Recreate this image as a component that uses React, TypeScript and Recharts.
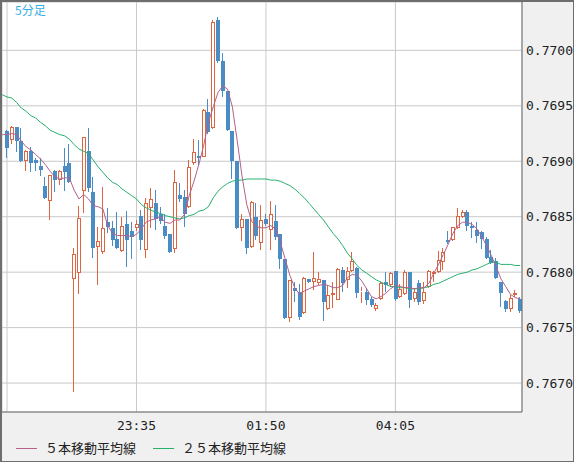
import React from 'react';
import { ComposedChart, Bar, Line, XAxis, YAxis, CartesianGrid, Legend } from 'recharts';

// index 0 is the bar just left of the visible window (only its averages are visible)
const openP = [null,
  0.76927, 0.76919, 0.76931, 0.76918, 0.76900, 0.76909, 0.76901, 0.76896, 0.76878, 0.76864,
  0.76891, 0.76883, 0.76896, 0.76898, 0.76794, 0.76799, 0.76873, 0.76909, 0.76872, 0.76823,
  0.76818, 0.76845, 0.76840, 0.76830, 0.76819, 0.76843, 0.76837, 0.76840, 0.76851, 0.76820,
  0.76858, 0.76862, 0.76852, 0.76842, 0.76834, 0.76821, 0.76870, 0.76868, 0.76859, 0.76898,
  0.76905, 0.76904, 0.76944, 0.76930, 0.77027, 0.76990, 0.76963, 0.76927, 0.76900, 0.76840,
  0.76848, 0.76823, 0.76850, 0.76826, 0.76848, 0.76838, 0.76846, 0.76834, 0.76812, 0.76759,
  0.76786, 0.76782, 0.76763, 0.76794, 0.76791, 0.76790, 0.76793, 0.76767, 0.76779, 0.76775,
  0.76802, 0.76793, 0.76801, 0.76804, 0.76782, 0.76782, 0.76776, 0.76767, 0.76776, 0.76791,
  0.76788, 0.76801, 0.76778, 0.76780, 0.76800, 0.76776, 0.76790, 0.76774, 0.76787, 0.76798,
  0.76800, 0.76809, 0.76829, 0.76829, 0.76840, 0.76850, 0.76854, 0.76842, 0.76838, 0.76836,
  0.76830, 0.76814, 0.76810, 0.76791, 0.76774, 0.76767, 0.76779, 0.76776];

const highP = [null,
  0.76928, 0.76932, 0.76931, 0.76930, 0.76910, 0.76913, 0.76903, 0.76903, 0.76886, 0.76888,
  0.76892, 0.76892, 0.76912, 0.76916, 0.76822, 0.76860, 0.76922, 0.76930, 0.76886, 0.76841,
  0.76877, 0.76858, 0.76846, 0.76854, 0.76850, 0.76855, 0.76845, 0.76847, 0.76856, 0.76867,
  0.76876, 0.76874, 0.76859, 0.76852, 0.76834, 0.76892, 0.76880, 0.76874, 0.76901, 0.76920,
  0.76919, 0.76947, 0.76956, 0.77027, 0.77030, 0.76998, 0.76963, 0.76927, 0.76900, 0.76852,
  0.76848, 0.76864, 0.76862, 0.76861, 0.76852, 0.76864, 0.76861, 0.76834, 0.76812, 0.76793,
  0.76791, 0.76789, 0.76796, 0.76794, 0.76818, 0.76800, 0.76793, 0.76788, 0.76791, 0.76804,
  0.76805, 0.76805, 0.76818, 0.76805, 0.76787, 0.76786, 0.76778, 0.76772, 0.76791, 0.76800,
  0.76800, 0.76801, 0.76789, 0.76802, 0.76800, 0.76786, 0.76793, 0.76791, 0.76802, 0.76801,
  0.76819, 0.76822, 0.76837, 0.76841, 0.76858, 0.76856, 0.76856, 0.76845, 0.76845, 0.76837,
  0.76832, 0.76820, 0.76813, 0.76791, 0.76775, 0.76779, 0.76784, 0.76778];

const lowP = [null,
  0.76903, 0.76916, 0.76908, 0.76899, 0.76891, 0.76890, 0.76891, 0.76887, 0.76866, 0.76847,
  0.76872, 0.76879, 0.76873, 0.76880, 0.76692, 0.76780, 0.76853, 0.76872, 0.76813, 0.76788,
  0.76816, 0.76835, 0.76824, 0.76821, 0.76818, 0.76805, 0.76812, 0.76837, 0.76820, 0.76813,
  0.76840, 0.76838, 0.76843, 0.76830, 0.76817, 0.76817, 0.76863, 0.76841, 0.76858, 0.76897,
  0.76897, 0.76904, 0.76925, 0.76929, 0.76989, 0.76958, 0.76927, 0.76884, 0.76839, 0.76828,
  0.76816, 0.76822, 0.76829, 0.76820, 0.76842, 0.76820, 0.76829, 0.76803, 0.76758, 0.76755,
  0.76773, 0.76757, 0.76762, 0.76790, 0.76784, 0.76788, 0.76756, 0.76766, 0.76768, 0.76775,
  0.76782, 0.76786, 0.76800, 0.76777, 0.76772, 0.76770, 0.76769, 0.76765, 0.76775, 0.76782,
  0.76787, 0.76774, 0.76777, 0.76779, 0.76768, 0.76773, 0.76770, 0.76771, 0.76786, 0.76791,
  0.76799, 0.76802, 0.76825, 0.76828, 0.76839, 0.76849, 0.76837, 0.76831, 0.76826, 0.76821,
  0.76812, 0.76807, 0.76794, 0.76769, 0.76764, 0.76764, 0.76778, 0.76763];

const closeP = [null,
  0.76912, 0.76931, 0.76918, 0.76900, 0.76909, 0.76898, 0.76898, 0.76892, 0.76867, 0.76888,
  0.76883, 0.76891, 0.76890, 0.76881, 0.76816, 0.76849, 0.76922, 0.76876, 0.76822, 0.76828,
  0.76840, 0.76841, 0.76829, 0.76822, 0.76842, 0.76829, 0.76832, 0.76843, 0.76829, 0.76862,
  0.76866, 0.76848, 0.76846, 0.76833, 0.76818, 0.76881, 0.76866, 0.76852, 0.76895, 0.76908,
  0.76903, 0.76946, 0.76926, 0.77026, 0.76990, 0.76963, 0.76928, 0.76900, 0.76840, 0.76848,
  0.76822, 0.76863, 0.76833, 0.76847, 0.76843, 0.76852, 0.76832, 0.76812, 0.76759, 0.76793,
  0.76783, 0.76760, 0.76795, 0.76791, 0.76795, 0.76794, 0.76773, 0.76779, 0.76781, 0.76803,
  0.76790, 0.76801, 0.76810, 0.76781, 0.76783, 0.76775, 0.76770, 0.76770, 0.76790, 0.76788,
  0.76799, 0.76776, 0.76785, 0.76800, 0.76775, 0.76782, 0.76773, 0.76782, 0.76801, 0.76800,
  0.76811, 0.76818, 0.76827, 0.76841, 0.76851, 0.76854, 0.76842, 0.76840, 0.76833, 0.76830,
  0.76813, 0.76808, 0.76795, 0.76781, 0.76767, 0.76777, 0.76781, 0.76765];

const ma5 = [0.76924,
  0.76924, 0.76925, 0.76924, 0.76918, 0.76913, 0.76910, 0.76906, 0.76902, 0.76897, 0.76891,
  0.76886, 0.76884, 0.76885, 0.76885, 0.76874, 0.76866, 0.76870, 0.76866, 0.76860, 0.76859,
  0.76857, 0.76842, 0.76835, 0.76833, 0.76833, 0.76833, 0.76832, 0.76834, 0.76839, 0.76845,
  0.76847, 0.76848, 0.76850, 0.76845, 0.76844, 0.76847, 0.76847, 0.76852, 0.76869, 0.76882,
  0.76897, 0.76914, 0.76935, 0.76949, 0.76962, 0.76968, 0.76965, 0.76949, 0.76919, 0.76887,
  0.76861, 0.76846, 0.76841, 0.76840, 0.76840, 0.76842, 0.76839, 0.76827, 0.76812, 0.76797,
  0.76786, 0.76780, 0.76783, 0.76785, 0.76787, 0.76788, 0.76789, 0.76788, 0.76786, 0.76786,
  0.76788, 0.76795, 0.76798, 0.76797, 0.76792, 0.76785, 0.76778, 0.76776, 0.76778, 0.76781,
  0.76785, 0.76788, 0.76787, 0.76786, 0.76786, 0.76785, 0.76786, 0.76786, 0.76790, 0.76799,
  0.76807, 0.76816, 0.76825, 0.76835, 0.76842, 0.76845, 0.76845, 0.76843, 0.76839, 0.76832,
  0.76824, 0.76815, 0.76805, 0.76794, 0.76787, 0.76780, 0.76777, 0.76776];

const ma25 = [0.76960,
  0.76958, 0.76957, 0.76953, 0.76948, 0.76945, 0.76941, 0.76939, 0.76935, 0.76932, 0.76928,
  0.76926, 0.76924, 0.76923, 0.76920, 0.76915, 0.76911, 0.76909, 0.76907, 0.76901, 0.76895,
  0.76890, 0.76885, 0.76881, 0.76879, 0.76875, 0.76872, 0.76869, 0.76866, 0.76861, 0.76858,
  0.76856, 0.76854, 0.76853, 0.76851, 0.76850, 0.76849, 0.76848, 0.76849, 0.76851, 0.76852,
  0.76855, 0.76856, 0.76859, 0.76867, 0.76873, 0.76877, 0.76880, 0.76882, 0.76883, 0.76883,
  0.76884, 0.76884, 0.76884, 0.76884, 0.76884, 0.76883, 0.76883, 0.76882, 0.76880, 0.76878,
  0.76875, 0.76871, 0.76867, 0.76862, 0.76857, 0.76852, 0.76847, 0.76841, 0.76835, 0.76830,
  0.76824, 0.76817, 0.76812, 0.76806, 0.76802, 0.76799, 0.76796, 0.76793, 0.76791, 0.76789,
  0.76787, 0.76787, 0.76786, 0.76786, 0.76785, 0.76785, 0.76785, 0.76786, 0.76787, 0.76789,
  0.76790, 0.76792, 0.76794, 0.76796, 0.76798, 0.76799, 0.76800, 0.76802, 0.76803, 0.76805,
  0.76807, 0.76809, 0.76809, 0.76807, 0.76807, 0.76807, 0.76806, 0.76806];

const yTicks = [0.767, 0.7675, 0.768, 0.7685, 0.769, 0.7695, 0.77];
const xTicks = [1, 28, 55, 82];
const xTickLabels = ['', '23:35', '01:50', '04:05'];
const xDomain = [-0.043, 108.4];
const yDomain = [0.766739, 0.770436];
const seriesNames = ['５本移動平均線', '２５本移動平均線'];
const periodLabel = '5分足';

const UP = '#dd6640';
const DOWN = '#4a8cc4';
const MA5_COLOR = '#b5608c';
const MA25_COLOR = '#26b06c';
const GRID = '#c9c9c9';
const FRAME = '#6e6e6e';
const MONO = '"DejaVu Sans Mono", monospace';
const CJK = '"Noto Sans CJK JP", sans-serif';

const data = ma5.map((m, i) => ({
  x: i,
  open: openP[i],
  high: highP[i],
  low: lowP[i],
  close: closeP[i],
  ma5: m,
  ma25: ma25[i],
}));

const Candle = (props: any) => {
  const { x, y, width, height, payload } = props;
  if (!payload || payload.open == null || x == null || y == null) return null;
  const { open, high, low, close } = payload;
  const top = Math.min(y, y + height);
  const h = Math.abs(height);
  const span = high - low;
  const toY = (v: number) => (span === 0 ? top : top + ((high - v) / span) * h);
  const cx = x + width / 2;
  const p = Math.floor(cx);
  const wx = p + 0.5;
  const up = close >= open;
  const yo = toY(open);
  const yc = toY(close);
  const bTop = Math.round(Math.min(yo, yc));
  const bBot = Math.max(Math.round(Math.max(yo, yc)), bTop + 1);
  const yH = Math.round(top);
  const yL = Math.round(top + h);
  if (up) {
    return (
      <g>
        <line x1={wx} x2={wx} y1={yH} y2={bTop} stroke={UP} strokeWidth={1} />
        <line x1={wx} x2={wx} y1={bBot} y2={yL} stroke={UP} strokeWidth={1} />
        <rect x={p - 0.5} y={bTop + 0.5} width={3} height={Math.max(bBot - bTop - 1, 0)} fill="#ffffff" stroke={UP} strokeWidth={1} />
      </g>
    );
  }
  return (
    <g>
      <line x1={wx} x2={wx} y1={yH} y2={yL} stroke={DOWN} strokeWidth={1} />
      <rect x={p - 1} y={bTop} width={4} height={bBot - bTop} fill={DOWN} />
    </g>
  );
};

const LegendContent = (props: any) => {
  const items = (props.payload || [])
    .filter((e: any) => e.type !== 'none' && seriesNames.indexOf(e.value) >= 0)
    .slice()
    .sort((a: any, b: any) => seriesNames.indexOf(a.value) - seriesNames.indexOf(b.value));
  return (
    <div style={{ display: 'flex', alignItems: 'center', height: 20, paddingLeft: 16 }}>
      {items.map((e: any, i: number) => (
        <div key={i} style={{ display: 'flex', alignItems: 'center', marginRight: 17 }}>
          <span style={{ display: 'inline-block', width: 21, height: 1, background: e.color, marginRight: 8 }} />
          <span style={{ fontFamily: CJK, fontSize: 13, color: '#222', lineHeight: '20px', whiteSpace: 'nowrap' }}>{e.value}</span>
        </div>
      ))}
    </div>
  );
};

export default function App() {
  return (
    <div style={{ position: 'relative', width: 574, height: 462, background: '#f0f0f0', overflow: 'hidden' }}>
      <style>{'body{margin:0;}'}</style>
      <ComposedChart width={574} height={462} data={data} margin={{ top: 2, left: 2, right: 0, bottom: 26 }}>
        <CartesianGrid stroke={GRID} fill="#ffffff" />
        <XAxis
          type="number"
          dataKey="x"
          domain={xDomain}
          allowDataOverflow
          ticks={xTicks}
          interval={0}
          tickFormatter={(v: number) => xTickLabels[xTicks.indexOf(v)] ?? ''}
          tickLine={false}
          tickSize={0}
          tickMargin={9}
          height={24}
          axisLine={{ stroke: FRAME }}
          tick={{ fill: '#222', fontSize: 13, fontFamily: MONO }}
        />
        <YAxis
          type="number"
          orientation="right"
          domain={yDomain}
          allowDataOverflow
          ticks={yTicks}
          interval={0}
          tickFormatter={(v: number) => v.toFixed(4)}
          tickLine={false}
          tickSize={0}
          tickMargin={4}
          width={52}
          axisLine={{ stroke: FRAME }}
          tick={{ fill: '#222', fontSize: 13, fontFamily: MONO }}
        />
        <Bar
          dataKey={(d: any) => (d.open == null ? null : [d.low, d.high])}
          barSize={4}
          shape={<Candle />}
          legendType="none"
          isAnimationActive={false}
        />
        <Line type="linear" dataKey="ma25" name={seriesNames[1]} stroke={MA25_COLOR} strokeWidth={1} dot={false} activeDot={false} isAnimationActive={false} />
        <Line type="linear" dataKey="ma5" name={seriesNames[0]} stroke={MA5_COLOR} strokeWidth={1} dot={false} activeDot={false} isAnimationActive={false} />
        <Legend
          layout="vertical"
          align="center"
          verticalAlign="middle"
          wrapperStyle={{ position: 'absolute', left: 0, top: 438, width: 574, height: 20 }}
          content={<LegendContent />}
        />
      </ComposedChart>
      <div style={{ position: 'absolute', left: 15, top: 2, fontFamily: CJK, fontSize: 12, lineHeight: '16px', color: '#35aee6' }}>{periodLabel}</div>
      <div style={{ position: 'absolute', inset: 0, boxSizing: 'border-box', borderTop: `2px solid ${FRAME}`, borderLeft: `2px solid ${FRAME}`, borderRight: `1px solid ${FRAME}`, borderBottom: `1px solid ${FRAME}`, pointerEvents: 'none' }} />
    </div>
  );
}
